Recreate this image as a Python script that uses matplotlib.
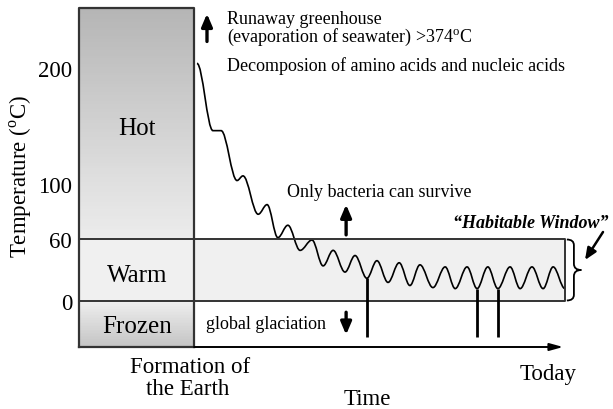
import numpy as np
import matplotlib
matplotlib.use("Agg")
import matplotlib.pyplot as plt
from matplotlib.path import Path
from matplotlib.patches import PathPatch

plt.rcParams['font.family'] = ['Liberation Serif', 'DejaVu Serif']
plt.rcParams['mathtext.fontset'] = 'custom'
plt.rcParams['mathtext.rm'] = 'Liberation Serif'

# schematic (non linear) temperature axis: temperature -> height above 0 line
scaleTemp = [-45, 0, 60, 100, 200, 252]
scalePos = [-46, 0, 62, 117, 233, 293]

yTicks = [0, 60, 100, 200]
zoneNames = ['Hot', 'Warm', 'Frozen']

# time (0 = formation of the Earth, 1 = today) and temperature
# turning points of the wavy temperature history
tCurve = [0.008, 0.051, 0.073, 0.116, 0.132, 0.173, 0.197, 0.226, 0.253, 0.286,
          0.318, 0.348, 0.375, 0.407, 0.434, 0.466, 0.493, 0.523, 0.553, 0.582,
          0.609, 0.644, 0.677, 0.704, 0.736, 0.763, 0.792, 0.819, 0.852, 0.879,
          0.911, 0.941, 0.968, 1.0]
TCurve = [204, 146, 146, 103, 107, 78, 85, 61, 70, 49,
          59, 34, 49, 28, 44, 22, 39, 18, 37, 15,
          35, 13, 33, 12, 33, 12, 33, 12, 33, 12,
          33, 12, 33, 12]

# global glaciation events
tGlacial = [0.466, 0.763, 0.819]
TGlacialBottom = -35

W, H = 613, 410


def px(x, y):
    return (x / W, 1 - y / H)


def fwd(T):
    return np.interp(T, scaleTemp, scalePos)


def inv(p):
    return np.interp(p, scalePos, scaleTemp)


fig = plt.figure(figsize=(W / 100, H / 100), dpi=100)
ax = fig.add_axes([79 / W, 62 / H, 486 / W, 339 / H])
ax.set_yscale('function', functions=(fwd, inv))
ax.set_xlim(-0.31, 1.0)
ax.set_ylim(scaleTemp[0], scaleTemp[-1])
for s in ax.spines.values():
    s.set_visible(False)
ax.set_xticks([])
ax.set_yticks(yTicks)
ax.yaxis.set_minor_locator(matplotlib.ticker.NullLocator())
ax.tick_params(axis='y', length=0, pad=5, labelsize=16.5)

edge = '#333333'

# left column: hot / warm / frozen
yHot = np.linspace(60, 252, 80)
ax.pcolormesh([-0.31, 0], yHot, np.linspace(0.92, 0.71, 79).reshape(-1, 1),
              cmap='gray', vmin=0, vmax=1, shading='flat')
yFro = np.linspace(-45, 0, 30)
ax.pcolormesh([-0.31, 0], yFro, np.linspace(0.77, 0.93, 29).reshape(-1, 1),
              cmap='gray', vmin=0, vmax=1, shading='flat')
ax.fill_between([-0.31, 1.0], 0, 60, color='#f0f0f0', lw=0)

# outlines
ax.plot([-0.31, -0.31, 0, 0], [-45, 252, 252, -45], color=edge, lw=1.6, clip_on=False)
ax.plot([-0.31, 0], [-45, -45], color=edge, lw=1.6, clip_on=False)
ax.plot([-0.31, 1.0, 1.0, -0.31], [60, 60, 0, 0], color=edge, lw=1.4, clip_on=False)

# time axis arrow
ax.annotate('', xy=(0.995, -45), xytext=(0, -45), xycoords='data',
            arrowprops=dict(arrowstyle='-|>,head_length=0.8,head_width=0.22',
                            mutation_scale=10, lw=1.4, color='black',
                            shrinkA=0, shrinkB=0), annotation_clip=False)

# temperature history as smooth curve through turning points
verts = [(tCurve[0], TCurve[0])]
codes = [Path.MOVETO]
for i in range(len(tCurve) - 1):
    t0, t1 = tCurve[i], tCurve[i + 1]
    dt = t1 - t0
    verts += [(t0 + 0.36 * dt, TCurve[i]), (t1 - 0.36 * dt, TCurve[i + 1]), (t1, TCurve[i + 1])]
    codes += [Path.CURVE4] * 3
ax.add_patch(PathPatch(Path(verts, codes), fill=False, color='black', lw=1.2, clip_on=False))

# glaciation events
TGlacialTop = np.interp(tGlacial, tCurve, TCurve)
ax.vlines(tGlacial, TGlacialBottom, TGlacialTop, color='black', lw=2)

# thick arrows
arrowKw = dict(arrowstyle='-|>,head_length=0.75,head_width=0.32', mutation_scale=10,
               lw=2.4, color='black', shrinkA=0, shrinkB=0)
ax.annotate('', xy=(0.035, 247), xytext=(0.035, 223), arrowprops=arrowKw, annotation_clip=False)
ax.annotate('', xy=(0.41, 85), xytext=(0.41, 63), arrowprops=arrowKw)
ax.annotate('', xy=(0.41, -33), xytext=(0.41, -11), arrowprops=arrowKw)

# brace for habitable window
bx0, bxm, bx1 = 1.005, 1.024, 1.044
brace = Path([(bx0, 59.5), (bxm, 59.5), (bxm, 54), (bxm, 36), (bxm, 30), (bx1, 30),
              (bxm, 30), (bxm, 24), (bxm, 6), (bxm, 0.5), (bx0, 0.5)],
             [Path.MOVETO, Path.CURVE3, Path.CURVE3, Path.LINETO, Path.CURVE3, Path.CURVE3,
              Path.CURVE3, Path.CURVE3, Path.LINETO, Path.CURVE3, Path.CURVE3])
ax.add_patch(PathPatch(brace, fill=False, color='black', lw=1.3, clip_on=False))

ax.annotate('', xy=px(585, 261), xytext=px(603, 233), xycoords='figure fraction',
            arrowprops=dict(arrowstyle='-|>,head_length=0.7,head_width=0.3', mutation_scale=10,
                            lw=1.8, color='black', shrinkA=0, shrinkB=0))

# zone labels
for name, yb in zip(zoneNames, [135, 282, 333]):
    fig.text(*px(137, yb), name, ha='center', va='baseline', fontsize=18)

fig.text(*px(21, 177), r'Temperature ($^{\rm o}$C)', rotation=90, ha='center', va='center',
         fontsize=16.5)
fig.text(*px(190, 373), 'Formation of', ha='center', va='baseline', fontsize=16.5)
fig.text(*px(188, 395), 'the Earth', ha='center', va='baseline', fontsize=16.5)
fig.text(*px(367, 405), 'Time', ha='center', va='baseline', fontsize=16.5)
fig.text(*px(520, 380), 'Today', ha='left', va='baseline', fontsize=16.5)

fig.text(*px(227, 42), 'Runaway greenhouse\n' + r'(evaporation of seawater) >374$^{\rm o}$C',
         ha='left', va='baseline', fontsize=13, linespacing=0.95)
fig.text(*px(227, 71), 'Decomposion of amino acids and nucleic acids', ha='left',
         va='baseline', fontsize=13)
fig.text(*px(287, 197), 'Only bacteria can survive', ha='left', va='baseline', fontsize=13)
fig.text(*px(206, 329), 'global glaciation', ha='left', va='baseline', fontsize=13)
fig.text(*px(453, 228), '\u201cHabitable Window\u201d', ha='left', va='baseline', fontsize=13,
         fontweight='bold', fontstyle='italic')

fig.savefig('out.png', dpi=100)
